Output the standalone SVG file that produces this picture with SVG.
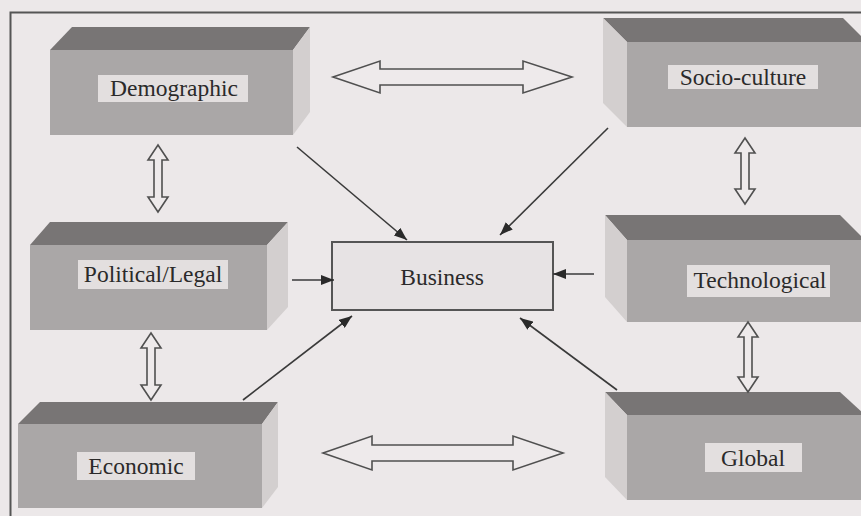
<svg xmlns="http://www.w3.org/2000/svg" width="861" height="516" viewBox="0 0 861 516">
<style>
.top{fill:#787575}
.front{fill:#aaa7a7}
.side{fill:#d3cfcf}
.lab{fill:#e3dfdf}
.txt{font-family:"Liberation Serif","Times New Roman",serif;font-size:23.5px;fill:#2b2a2a;text-anchor:middle}
.dbl{fill:#eeeaeb;stroke:#505050;stroke-width:1.6;stroke-linejoin:miter}
.ln{stroke:#3a3a3a;stroke-width:1.6;fill:none;marker-end:url(#ah)}
</style>
<defs>
<marker id="ah" viewBox="0 0 13 10" refX="13" refY="5" markerWidth="13" markerHeight="10" markerUnits="userSpaceOnUse" orient="auto">
<path d="M0,0 L13,5 L0,10 z" fill="#2a2a2a"/>
</marker>
</defs>
<rect x="0" y="0" width="861" height="516" fill="#ece8e9"/>
<path d="M10.5,516 V12.5 H861" fill="none" stroke="#555" stroke-width="2"/>

<g id="demographic">
<polygon class="top" points="50,50 72,27 310,27 293,50"/>
<polygon class="side" points="293,50 310,27 310,112 293,135"/>
<rect class="front" x="50" y="50" width="243" height="85"/>
<rect class="lab" x="98" y="75" width="150" height="27"/>
<text class="txt" x="174" y="96">Demographic</text>
</g>

<g id="political">
<polygon class="top" points="30,245 50,222 288,222 267,245"/>
<polygon class="side" points="267,245 288,222 288,307 267,330"/>
<rect class="front" x="30" y="245" width="237" height="85"/>
<rect class="lab" x="78" y="260" width="150" height="29"/>
<text class="txt" x="153" y="282">Political/Legal</text>
</g>

<g id="economic">
<polygon class="top" points="18,424 40,402 278,402 262,424"/>
<polygon class="side" points="262,424 278,402 278,487 262,508"/>
<rect class="front" x="18" y="424" width="244" height="84"/>
<rect class="lab" x="77" y="452" width="118" height="28"/>
<text class="txt" x="136" y="474">Economic</text>
</g>

<g id="socio-culture">
<polygon class="top" points="603,18 843,18 867,42 627,42"/>
<polygon class="side" points="603,18 627,42 627,127 603,103"/>
<rect class="front" x="627" y="42" width="240" height="85"/>
<rect class="lab" x="668" y="65" width="150" height="24"/>
<text class="txt" x="743" y="85">Socio-culture</text>
</g>

<g id="technological">
<polygon class="top" points="605,215 840,215 865,240 627,240"/>
<polygon class="side" points="605,215 627,240 627,322 605,297"/>
<rect class="front" x="627" y="240" width="238" height="82"/>
<rect class="lab" x="687" y="265" width="143" height="32"/>
<text class="txt" x="760" y="288">Technological</text>
</g>

<g id="global">
<polygon class="top" points="605,392 840,392 865,415 627,415"/>
<polygon class="side" points="605,392 627,415 627,500 605,477"/>
<rect class="front" x="627" y="415" width="238" height="85"/>
<rect class="lab" x="705" y="443" width="97" height="29"/>
<text class="txt" x="753" y="466">Global</text>
</g>

<g id="business">
<rect x="332" y="242" width="221" height="68" fill="#e7e3e4" stroke="#555" stroke-width="2"/>
<text class="txt" x="442" y="285">Business</text>
</g>

<g id="connectors">
<polygon class="dbl" points="333,77 380,61 380,69 523,69 523,61 572,77 523,93 523,85 380,85 380,93"/>
<polygon class="dbl" points="323,453 372,436 372,445 513,445 513,436 563,453 513,470 513,461 372,461 372,470"/>
<polygon class="dbl" points="158,145 168,160 162,160 162,197 168,197 158,212 148,197 154,197 154,160 148,160"/>
<polygon class="dbl" points="151,333 161,348 155,348 155,385 161,385 151,400 141,385 147,385 147,348 141,348"/>
<polygon class="dbl" points="745,138 755,153 749,153 749,189 755,189 745,204 735,189 741,189 741,153 735,153"/>
<polygon class="dbl" points="748,322 758,337 752,337 752,377 758,377 748,392 738,377 744,377 744,337 738,337"/>
<line class="ln" x1="297" y1="147" x2="407" y2="240"/>
<line class="ln" x1="608" y1="128" x2="500" y2="235"/>
<line class="ln" x1="292" y1="280" x2="334" y2="280"/>
<line class="ln" x1="594" y1="274" x2="553" y2="274"/>
<line class="ln" x1="243" y1="400" x2="352" y2="316"/>
<line class="ln" x1="617" y1="390" x2="520" y2="318"/>
</g>
</svg>
